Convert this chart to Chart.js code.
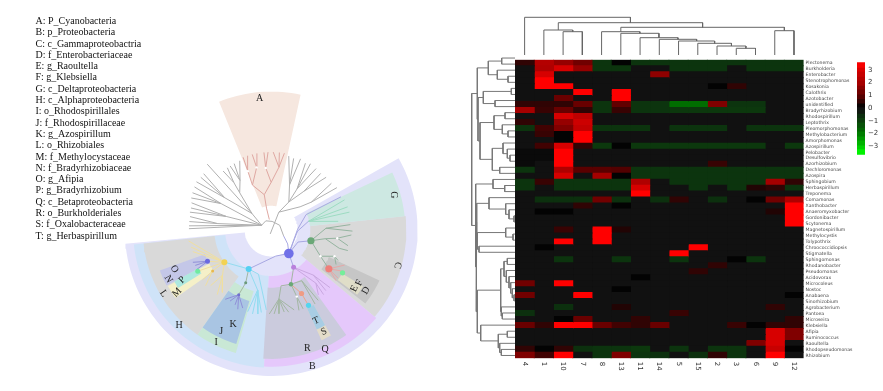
<!DOCTYPE html>
<html><head><meta charset="utf-8">
<style>
html,body{margin:0;padding:0;background:#fff;width:883px;height:391px;overflow:hidden}
canvas{position:absolute;display:block;filter:blur(.4px)}
#taxa{position:absolute;left:35.5px;top:15px;font:10px/11.3px "Liberation Serif",serif;color:#111;white-space:nowrap;filter:blur(.25px)}
</style>
<script src="https://cdn.jsdelivr.net/npm/chart.js@4"></script>
</head><body>
<div id="taxa"></div>
<canvas id="clade" width="465" height="391" style="left:0;top:0"></canvas>
<canvas id="dendroLeft" width="50" height="304" style="left:465px;top:55px"></canvas>
<canvas id="dendroTop" width="289" height="40" style="left:515px;top:15px"></canvas>
<canvas id="heat" width="340" height="335" style="left:515px;top:55px"></canvas>
<canvas id="cbar" width="26" height="107" style="left:857px;top:55px"></canvas>
<script>
// ---------- legend of taxa ----------
const taxa=["A: P_Cyanobacteria","B: p_Proteobacteria","C: c_Gammaproteobactria","D: f_Enterobacteriaceae","E: g_Raoultella","F: g_Klebsiella","G: c_Deltaproteobacteria","H: c_Alphaproteobacteria","I: o_Rhodospirillales","J: f_Rhodospirillaceae","K: g_Azospirillum","L: o_Rhizobiales","M: f_Methylocystaceae","N: f_Bradyrhizobiaceae","O: g_Afipia","P: g_Bradyrhizobium","Q: c_Betaproteobacteria","R: o_Burkholderiales","S: f_Oxalobacteraceae","T: g_Herbaspirillum"];
// ---------- cladogram (angle clockwise from north, radius) ----------
// wedge: [startAngle,endAngle,innerRadius,outerRadius,colour]
const wedges=[
[60.5,264.6,27,149.5,"#e3e3fa"],[338,372.2,25,142,"#f6e7df"],
[183,264,47,141,"#cfe3f8"],[130,183,47,140,"#e5c8fb"],[84,130,40,138,"#d9d9d9"],[64.5,84,40,137,"#cde8e2"],
[215,264,58,131,"#d9d9d9"],[196,215,65,131,"#c9e8d5"],[197,215,76,122,"#a9c5e3"],
[242,250,72,121,"#c4c7e8"],[234.5,241.5,72,120,"#f5f0c8"],[238,242,84,112,"#aee8df"],
[144.5,183.5,59,132,"#cbcbdd"],[150.5,155.5,88,124,"#e3dcc9"],[150.5,155.5,88,112,"#a8cde4"],
[115,128,65,122,"#c6c6c6"],[121.5,127,85,110,"#e0dec8"]];
const greyBranches=[[297,11,330,11,6,9,60,10,115,14],[297,11,311,26,320,50,322,62,321,78],[322,62,325,78],[320,50,328,60,327.5,78],[328,60,331,78],[328,60,335.7,78],[311,26,316,94],[311,26,305,58,310,90],[305,58,307,90],[305,58,303,91],[297,11,298,58,299.5,90],[298,58,295.5,89],[298,58,292,88],[297,11,287,48,289,86],[287,48,285.5,85],[287,48,282.5,85],[297,11,277,55,279.5,84],[277,55,276,84],[297,11,273,84],[297,11,271,84],
[194,4,23,20,32,34,22,50,13.3,78],[22,50,17.3,77],[22,50,22.3,79],[32,34,32,50,27,77],[32,50,30.5,79],[32,50,36,78],[32,34,40,52,41,77],[40,52,46,78],[23,20,51,38,55,50,52,78],[55,50,57,80]];
const redBranches=[[350,11,348,23,349,37],[349,37,337.5,50,338.5,65,339,80],[338.5,65,342.5,80],[337.5,50,347,66,346,80],[347,66,349.5,80],[349,37,0,49,355,64,354.7,80],[355,64,357.7,80],[0,49,7,65,1.5,80],[7,65,6,80],[7,65,9.7,80]];
const lavenderBranches=[[115,14,130,22,143,30],[143,30,88,27,66,39,64.4,79],[143,30,92,27,76.7,39],[143,30,114,30,105,42],[143,30,149,44.5],[143,30,170,27,210,46]];
const deltaBranches=[[76.7,39,67.5,81],[76.7,39,73,81.6],[76.7,39,77,82],[76.7,39,82.5,69]];
const gammaBranches=[[105,42,88,56,86,81],[88,56,90.7,83],[105,42,99,56,97,68,93.5,82],[97,68,101.5,80],[99,56,105,72,105,81],[105,42,118,57,112.5,70,114.5,75],[112.5,70,118,75],[118,57,124,71]];
const entericBranches=[[124,71,115.6,83],[124,71,120,84],[124,71,125.8,84],[124,71,128,84]];
const betaBranches=[[149,44.5,137,63,134.5,84],[137,63,138,83.5],[149,44.5,140,71,141,85],[140,71,144,82]];
const burkBranches=[[149,44.5,160,59,170,58,173.6,71,181.3,86],[173.6,71,178,86],[173.6,71,174.7,86],[173.6,71,171,85],[173.6,71,168,86],[173.6,71,164,85],[160,59,159,73,158,87],[159,73,161,87],[160,59,149,60.5,146.3,86.5],[149,60.5,149.4,88],[210,46,205.7,60,206.6,74]];
const oxaloBranches=[[160,59,154.5,72,153.7,86]];
const cyanBranches=[[210,46,235.5,58],[210,46,192.7,63,196,87],[192.7,63,192.5,88],[192.7,63,189,87],[192.7,63,186.8,85],[210,46,196,47,183.5,82]];
const blueBranches=[[206.6,74,213.5,85],[206.6,74,210,84],[206.6,74,205.7,85],[206.6,74,202.8,88],[206.6,74,200,85],[243.8,72.5,247.6,86.5],[243.8,72.5,245,85.5],[243.8,72.5,242,86.5]];
const yellowBranches=[[235.5,58,262.5,85],[235.5,58,258,83.7],[235.5,58,254.6,83],[235.5,58,243.8,72.5],[235.5,58,240.7,86],[235.5,58,235,73,234,86.5],[235,73,229.6,88],[235.5,58,227,68,227.4,84],[227,68,219.8,86],[227,68,218,81]];
const branchSets=[[greyBranches,"#b0b0b0"],[redBranches,"#dfa8a2"],[lavenderBranches,"#a8a8e2"],[deltaBranches,"#9ddcc2"],[gammaBranches,"#95b4a0"],[entericBranches,"#e7a7a7"],[betaBranches,"#c9a8e0"],[burkBranches,"#a3b7a3"],[oxaloBranches,"#eda48e"],[cyanBranches,"#93dcf0"],[blueBranches,"#9090d8"],[yellowBranches,"#f0dfa0"]];
// node: [angle,radius,size,colour]
const cladeNodes=[[143,30,4.8,"#7070e8"],[149,44.5,2.5,"#b980dc"],[105,42,3.6,"#6aa877"],[124,71,3.6,"#ef7f7a"],[121,85,2.6,"#76ee9a"],[160,59,2.2,"#6aa877"],[154.5,72,2.6,"#ef9c85"],[153.7,86,2.6,"#55d5ee"],[210,46,3,"#55d0f2"],[235.5,58,3,"#f2d253"],[243.8,72.5,2.5,"#6a6ae0"],[240.7,86,2.5,"#70eaa0"],[235,73,1.5,"#e8b850"],[205.7,60,1.5,"#6a9a7a"],[206.6,74,1.5,"#7070d0"],[97,68,1.2,"#ffffff"],[112.5,70,1.2,"#ffffff"],[118,57,1.2,"#ffffff"],[159,73,1.2,"#ffffff"],[338.5,65,1.2,"#ffffff"],[355,64,1.2,"#ffffff"],[347,66,1.2,"#ffffff"]];
// wedge letter: [text,angle,radius,rotation]
const cladeLabels=[["A",355,135.5,0],["B",163.3,146.2,0],["C",105.6,134,100],["D",122.6,115,-60],["E",125.2,104,-65],["F",121,105,-65],["G",73.9,130,90],["H",223.8,135.8,0],["I",206,128,0],["J",206.1,115.8,0],["K",201.9,104.5,0],["L",239.4,127.8,55],["M",236.3,115.4,-45],["N",244.5,116.3,60],["O",248,106.8,60],["P",240.7,104.3,-45],["Q",155.7,133.8,0],["R",163,126.5,0],["S",152.6,117.2,-25],["T",153.7,103.8,-25]];
// ---------- heatmap ----------
const colNames=["4","1","10","7","8","13","11","14","5","15","2","3","6","9","12"];
const rowNames=["Plectonema","Burkholderia","Enterobacter","Stenotrophomonas","Kosakonia","Calothrix","Azotobacter","unidentified","Bradyrhizobium","Rhodospirillum","Leptothrix","Pleomorphomonas","Methylobacterium","Amorphomonas","Azospirillum","Pelobacter","Desulfovibrio","Azorhizobium","Dechloromonas","Azospira","Sphingobium","Herbaspirillum","Treponema","Comamonas","Xanthobacter","Anaeromyxobacter","Gordonibacter","Scytonema","Magnetospirillum","Methylocystis","Tolypothrix","Chroococcidiopsis","Stigmatella","Sphingomonas","Rhodanobacter","Pseudomonas","Acidovorax","Microcoleus","Nostoc","Anabaena","Sinorhizobium","Agrobacterium","Pantoea","Microseira","Klebsiella","Afipia","Ruminococcus","Raoultella","Rhodopseudomonas","Rhizobium"];
const heatValues=[
[.5,2.3,1.8,1.3,-.7,.2,-.7,-.7,-.7,-.7,-.7,-.7,-.7,-.7,-.7],
[0,2.2,3,1.8,-.7,-.7,0,0,-.7,-.7,-.7,0,-.7,-.7,-.7],
[0,3,0,0,0,0,0,1.7,0,0,0,0,0,0,0],
[0,3.5,0,0,0,0,0,0,0,0,0,0,0,0,0],
[0,3.5,3.5,0,0,0,0,0,0,0,.2,.5,0,0,0],
[0,0,0,3.5,0,3.5,0,0,0,0,0,0,0,0,0],
[0,0,1.2,0,0,3.5,0,0,0,0,0,0,0,0,0],
[.5,.5,.5,1.2,-.7,1.1,-.7,-.7,-1.8,-1.8,1.5,-.7,-.7,0,0],
[2,.6,1.2,.5,-.7,.6,-.7,-.7,-.8,-.8,-.8,-.8,-.8,0,0],
[0,0,3,2.5,0,0,0,0,0,0,0,0,0,0,0],
[.5,0,1.8,2.8,0,0,0,0,0,0,0,0,0,0,0],
[-.7,.7,1.5,2.6,-.7,-.7,-.7,0,-.7,-.7,-.7,0,-.7,-.7,-.7],
[0,.6,.2,3.5,0,0,0,0,0,0,0,0,0,0,0],
[0,0,.2,3.5,0,0,0,0,0,0,0,0,0,0,0],
[0,.7,3,.5,-.8,.2,-.8,-.8,-.8,-.8,-.8,-.8,-.8,0,-.8],
[.15,.15,3.5,0,0,0,0,0,0,0,0,0,0,0,0],
[.15,.15,3.5,0,0,0,0,0,0,0,0,0,0,0,0],
[.15,0,3.5,0,0,0,0,0,0,0,.6,0,0,0,0],
[-.7,0,2.2,1,1,.9,-.7,-.7,-.7,-.7,-.7,-.7,-.7,-.7,-.7],
[0,0,3,0,2,.2,-.7,-.7,-.7,-.7,-.7,-.7,-.7,-.7,-.7],
[-.7,.6,-.7,-.7,-.7,-.7,2.2,0,-.7,-.7,-.7,-.7,-.7,2,.5],
[-.7,0,-.7,-.7,-.7,-.7,3,0,0,-.7,0,-.7,.4,.5,-.7],
[0,0,0,0,0,0,3.5,0,0,0,0,0,0,0,0],
[0,-.6,-.6,-.6,1.3,-.6,0,-.6,.5,0,-.6,0,.2,1.3,2.2],
[0,0,0,.5,0,.2,0,0,0,0,0,0,0,0,3.5],
[0,.2,.2,0,0,0,0,0,0,0,0,0,0,.4,3.5],
[0,0,0,0,0,0,0,0,0,0,0,0,0,0,3.5],
[0,0,0,0,0,0,0,0,0,0,0,0,0,0,3.5],
[0,0,.6,0,3.5,.4,0,0,0,0,0,0,0,0,0],
[0,0,0,.1,3.5,0,0,0,0,0,0,0,0,0,0],
[0,0,3.5,0,3.5,0,0,0,0,0,0,0,0,0,0],
[0,.2,0,0,0,0,0,0,0,3.5,0,0,0,0,0],
[0,0,0,0,0,0,0,0,3.5,0,0,0,0,0,0],
[0,0,-.7,0,0,-.7,0,0,-.7,0,0,.2,-.7,0,0],
[0,0,0,0,0,0,0,0,0,0,.5,0,0,0,0],
[0,0,0,0,0,0,0,0,0,.5,0,0,0,0,0],
[0,0,0,0,0,0,.2,0,0,0,0,0,0,0,0],
[1.3,0,3.5,0,0,0,0,0,0,0,0,0,0,0,0],
[0,0,0,0,0,.2,0,0,0,0,0,0,0,0,0],
[1.3,0,0,3.5,0,0,0,0,0,0,0,0,0,0,.2],
[0,0,0,0,0,0,0,0,0,0,0,0,0,0,0],
[0,0,-.6,0,0,.4,0,0,0,0,0,0,0,.5,0],
[-.6,0,0,0,0,0,0,0,.6,0,0,0,0,0,0],
[0,0,.2,1.2,0,0,.5,0,0,0,0,0,0,0,.5],
[1.2,.5,3.5,3.5,1.2,.7,.5,1.2,0,0,0,.6,.2,.5,.5],
[0,0,0,0,0,0,0,0,0,0,0,0,0,3,1.5],
[0,0,0,0,0,0,0,0,0,0,0,0,0,3,1.5],
[0,0,0,0,0,0,0,0,0,0,0,0,1.5,3,0],
[.5,.2,.5,-.6,-.7,-.7,-.8,0,-.7,0,-.7,-.7,0,2.7,.2],
[1.5,.7,3.5,.1,-.7,1.5,-.7,-.6,.1,-.6,.5,-.7,0,3.5,0]];
// value -> colour stops
const stopValues=[-3.6,-2.6,-1.8,-1,-.6,-.1,0,.1,.2,.5,1,2,3,3.5];
const stopColours=[[0,255,0],[0,170,0],[0,110,0],[12,64,12],[12,48,14],[17,17,17],[17,17,17],[17,17,17],[3,3,3],[48,4,4],[90,0,0],[165,0,0],[215,0,0],[255,0,0]];
const barLevels=[3.6,3.2,2.9,2.5,2.2,1.8,1.5,1.1,.75,.4,.1,-.1,-.4,-.75,-1.1,-1.5,-1.8,-2.2,-2.5,-2.9,-3.2,-3.67];
const barTicks=[3,2,1,0,-1,-2,-3];
// top dendrogram merges: [leftLeaf,leftHeight,rightLeaf,rightHeight,height]
const topMerges=[[11.5,0,12.5,0,6.7],[10.5,0,12,6.7,9],[9.5,0,11.25,9,11.7],[8.5,0,10.375,11.7,14],[7.5,0,9.44,14,15.7],[6.5,0,8.47,15.7,17.3],[5.5,0,7.48,17.3,21.7],[4.5,0,6.49,21.7,23.3],[13.5,0,14.5,0,24.3],[5.5,23.3,14,24.3,27.7],[2.5,0,3.5,0,23.3],[1.5,0,3,23.3,25],[2.25,25,9.75,27.7,32.3],[.5,0,6,32.3,37.7]];
// left dendrogram merges: [topRow,topDist,bottomRow,bottomDist,dist]
const leftMerges=[[0,0,1,0,13.3],[3,0,4,0,7],[2,0,3.5,7,17.7],[.5,13.3,2.75,17.7,26.7],[5,0,6,0,3.7],[7,0,8,0,20],[5.5,3.7,7.5,20,31.7],[9,0,10,0,10],[12,0,13,0,7],[11,0,12.5,7,12.7],[9.5,10,11.75,12.7,21],[16,0,17,0,5],[15,0,16.5,5,7.7],[14,0,15.75,7.7,12],[18,0,19,0,15.3],[14.875,12,18.5,15.3,22.7],[10.625,21,16.69,22.7,35],[6.5,31.7,13.66,35,37],[1.625,26.7,10.08,37,37.7],
[21,0,22,0,10.3],[20,0,21.5,10.3,22],[26,0,27,0,1],[25,0,26.5,1,6],[24,0,25.75,6,9.3],[23,0,24.875,9.3,26],[29,0,30,0,2],[28,0,29.5,2,9.3],[31,0,32,0,36],[28.75,9.3,31.5,36,37.7],[23.94,26,30.125,37.7,38.3],
[33,0,34,0,7.7],[39,0,40,0,1],[38,0,39.5,1,2.7],[37,0,38.75,2.7,4.3],[36,0,37.875,4.3,6],[35,0,36.94,6,8.7],[33.5,7.7,35.97,8.7,11],[42,0,43,0,12.7],[41,0,42.5,12.7,13.7],[34.73,11,41.75,13.7,14.3],[45,0,46,0,7.7],[48,0,49,0,13.7],[47,0,48.5,13.7,15.3],[45.5,7.7,47.75,15.3,16.7],[44,0,46.6,16.7,34.3],[38.24,14.3,45.3,34.3,37.7],[27.03,38.3,41.77,37.7,38.7],[20.75,22,34.4,38.7,39.3],[5.85,37.7,27.58,39.3,43.3]];

// ---------- helpers ----------
document.getElementById('taxa').innerHTML=taxa.map(t=>'<div>'+t+'</div>').join('');
const polar=(a,r)=>({x:r*Math.sin(a*Math.PI/180),y:r*Math.cos(a*Math.PI/180)});
function heatColour(v){
  let i=0; while(i<stopValues.length-2&&v>stopValues[i+1])i++;
  const t=Math.max(0,Math.min(1,(v-stopValues[i])/(stopValues[i+1]-stopValues[i])));
  const c=stopColours[i].map((k,j)=>Math.round(k+(stopColours[i+1][j]-k)*t));
  return 'rgb('+c.join(',')+')';
}
function wedgePath(w){
  const pts=[],n=Math.max(2,Math.ceil((w[1]-w[0])/2));
  for(let i=0;i<=n;i++)pts.push(polar(w[0]+(w[1]-w[0])*i/n,w[3]));
  for(let i=n;i>=0;i--)pts.push(polar(w[0]+(w[1]-w[0])*i/n,w[2]));
  pts.push(pts[0]);return pts;
}
function branchPath(list){
  const pts=[];
  list.forEach(b=>{for(let i=0;i<b.length;i+=2)pts.push(polar(b[i],b[i+1]));pts.push({x:NaN,y:NaN});});
  return pts;
}
Chart.defaults.animation=false;
const bare={responsive:false,maintainAspectRatio:false,animation:false,layout:{padding:0},plugins:{legend:{display:false},tooltip:{enabled:false}}};
const lineDs=(data,color,w)=>({data,showLine:true,borderColor:color,borderWidth:w,pointRadius:0,tension:0,fill:false,spanGaps:false,clip:false});

// ---------- cladogram chart ----------
const cladeLetters={id:'cladeLetters',afterDatasetsDraw(c){
  const g=c.ctx;g.save();g.font='10px "Liberation Serif",serif';g.fillStyle='#222';g.textAlign='center';g.textBaseline='middle';
  cladeLabels.forEach(l=>{const p=polar(l[1],l[2]);g.save();g.translate(c.scales.x.getPixelForValue(p.x),c.scales.y.getPixelForValue(p.y));g.rotate(l[3]*Math.PI/180);g.fillText(l[0],0,0);g.restore();});
  g.restore();}};
// the library paints the first dataset last, so marks are listed top-down
new Chart('clade',{type:'scatter',plugins:[cladeLetters],data:{datasets:[
  {data:cladeNodes.map(n=>polar(n[0],n[1])),showLine:false,pointRadius:cladeNodes.map(n=>n[2]),pointBackgroundColor:cladeNodes.map(n=>n[3]),pointBorderWidth:0,clip:false},
  ...branchSets.map(s=>lineDs(branchPath(s[0]),s[1],1)),
  ...wedges.map(w=>({data:wedgePath(w),showLine:true,fill:'shape',backgroundColor:w[4],borderWidth:0,borderColor:'transparent',pointRadius:0,tension:0})).reverse()
]},options:{...bare,scales:{x:{type:'linear',display:false,min:-272,max:193},y:{type:'linear',display:false,min:-160,max:231}}}});

// ---------- dendrograms ----------
new Chart('dendroTop',{type:'scatter',data:{datasets:topMerges.map(m=>lineDs([{x:m[0],y:m[1]},{x:m[0],y:m[4]},{x:m[2],y:m[4]},{x:m[2],y:m[3]}],'#666',1))},
 options:{...bare,scales:{x:{type:'linear',display:false,min:0,max:15.02},y:{type:'linear',display:false,min:0,max:40}}}});
new Chart('dendroLeft',{type:'scatter',data:{datasets:leftMerges.map(m=>lineDs([{x:m[1],y:m[0]},{x:m[4],y:m[0]},{x:m[4],y:m[2]},{x:m[3],y:m[2]}],'#777',1))},
 options:{...bare,scales:{x:{type:'linear',display:false,reverse:true,min:0,max:50},y:{type:'linear',display:false,reverse:true,min:-.5,max:49.58}}}});

// ---------- heatmap ----------
// column labels read downwards from just below the cells
const colLabelsTop={id:'colLabelsTop',beforeDraw(c){c.scales.x.getLabelItems().forEach(i=>{i.options.textAlign='left';i.options.translation[1]=c.chartArea.bottom+3.5;});}};
new Chart('heat',{type:'bar',plugins:[colLabelsTop],data:{labels:rowNames,datasets:colNames.map((n,c)=>({label:n,grouped:false,barPercentage:1,categoryPercentage:1,borderWidth:0,inflateAmount:.5,
  data:rowNames.map(()=>[c,c+1]),backgroundColor:heatValues.map(r=>heatColour(r[c]))}))},
 options:{...bare,indexAxis:'y',scales:{
  y:{type:'category',position:'right',offset:true,grid:{display:false,drawTicks:false},border:{display:false},afterFit(s){s.width=51.4},
     ticks:{autoSkip:false,font:{family:'DejaVu Sans',size:4.6},color:'#444',padding:2}},
  x:{type:'linear',position:'bottom',min:0,max:15,grid:{display:false,drawTicks:false},border:{display:false},afterFit(s){s.height=31.7},
     afterBuildTicks(s){s.ticks=colNames.map((n,i)=>({value:i+.5}));},
     ticks:{autoSkip:false,minRotation:-90,maxRotation:-90,font:{family:'DejaVu Sans',size:7},color:'#333',padding:4,callback:(v)=>colNames[Math.floor(v)]}}
 }}});

// ---------- colour bar ----------
new Chart('cbar',{type:'bar',data:{labels:[''],datasets:barLevels.slice(0,-1).map((v,i)=>({grouped:false,barPercentage:1,categoryPercentage:1,borderWidth:0,inflateAmount:.5,
   data:[[barLevels[i+1],v]],backgroundColor:heatColour((v+barLevels[i+1])/2)}))},
 options:{...bare,scales:{x:{type:'category',display:false,offset:true},
  y:{type:'linear',position:'right',min:-3.67,max:3.6,grid:{display:false,drawTicks:false},border:{display:false},afterFit(s){s.width=18},
     afterBuildTicks(s){s.ticks=barTicks.map(v=>({value:v}));},
     ticks:{font:{family:'DejaVu Sans',size:7},color:'#333',padding:3,callback:v=>String(v).replace('-','\u2212')}}}}});
</script>
</body></html>
